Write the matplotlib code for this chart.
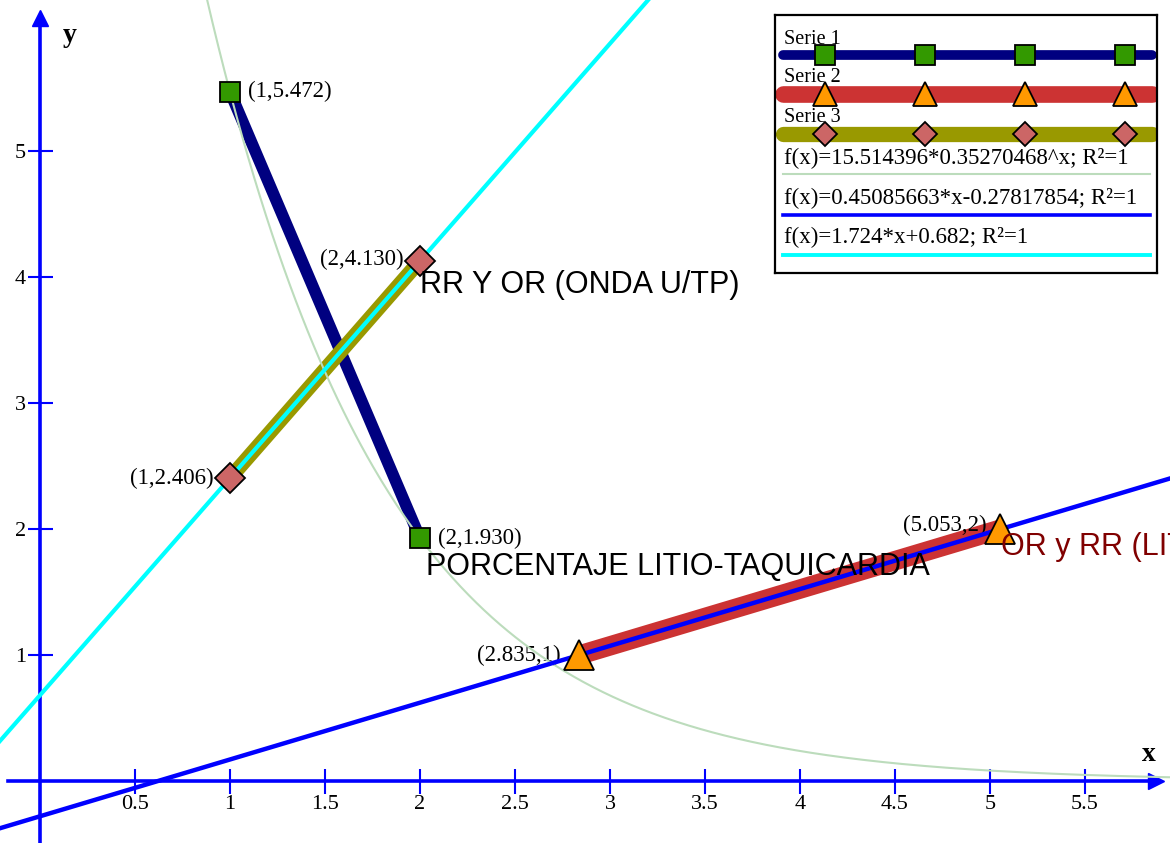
import numpy as np
import matplotlib
matplotlib.use('Agg')
import matplotlib.pyplot as plt

plt.rcParams['font.family'] = ['Liberation Serif', 'DejaVu Serif']

# ---- data ----
s1_x = [1, 2]
s1_y = [5.472, 1.930]
s2_x = [2.835, 5.053]
s2_y = [1, 2]
s3_x = [1, 2]
s3_y = [2.406, 4.130]

s1_lbl = ['(1,5.472)', '(2,1.930)']
s2_lbl = ['(2.835,1)', '(5.053,2)']
s3_lbl = ['(1,2.406)', '(2,4.130)']

# trend lines
exp_a, exp_b = 15.514396, 0.35270468
lin1_m, lin1_c = 0.45085663, -0.27817854
lin2_m, lin2_c = 1.724, 0.682

trend_txt = ['f(x)=15.514396*0.35270468^x; R²=1',
             'f(x)=0.45085663*x-0.27817854; R²=1',
             'f(x)=1.724*x+0.682; R²=1']
serie_names = ['Serie 1', 'Serie 2', 'Serie 3']

xticks = [0.5, 1, 1.5, 2, 2.5, 3, 3.5, 4, 4.5, 5, 5.5]
yticks = [1, 2, 3, 4, 5]

# colours
navy = '#000080'
red = '#cc3333'
olive = '#999900'
sq_fc = '#339900'
tri_fc = '#ff9900'
dia_fc = '#cc6666'
exp_col = '#bcdcbc'
blue = '#0000ff'
cyan = '#00ffff'

fig = plt.figure(figsize=(11.7, 8.43), dpi=100)
ax = fig.add_axes([0, 0, 1, 1])
ax.set_xlim(-0.21, 5.947)
ax.set_ylim(-0.49, 6.2)

# axes through origin
for s in ['top', 'right']:
    ax.spines[s].set_visible(False)
ax.spines['left'].set_position(('data', 0))
ax.spines['bottom'].set_position(('data', 0))
ax.spines['left'].set_color(blue)
ax.spines['bottom'].set_color(blue)
ax.spines['left'].set_linewidth(2.6)
ax.spines['bottom'].set_linewidth(2.6)
ax.spines['bottom'].set_bounds(-0.168, 5.86)
ax.spines['left'].set_bounds(-0.49, 6.02)
ax.plot(5.875, 0, '>', ms=11, color=blue, clip_on=False, zorder=3)
ax.plot(0, 6.06, '^', ms=11, color=blue, clip_on=False, zorder=3)

ax.set_xticks(xticks)
ax.set_xticklabels([('%g' % t) for t in xticks])
ax.set_yticks(yticks)
ax.set_yticklabels([('%g' % t) for t in yticks])
ax.tick_params(direction='inout', length=18, width=1.5, color=blue,
               labelcolor='black', labelsize=16, pad=1)

ax.text(5.8, 0.21, 'x', fontsize=20, fontweight='bold', ha='left', va='center')
ax.text(0.12, 5.92, 'y', fontsize=20, fontweight='bold', ha='left', va='center')

# trend curves
xx = np.linspace(-0.25, 6.0, 600)
ax.plot(xx, exp_a * exp_b ** xx, color=exp_col, lw=1.5, zorder=4)

# series lines
ax.plot(s1_x, s1_y, color=navy, lw=8.5, solid_capstyle='butt', zorder=2)
ax.plot(s2_x, s2_y, color=red, lw=14, solid_capstyle='butt', zorder=2)
ax.plot(s3_x, s3_y, color=olive, lw=10.5, solid_capstyle='butt', zorder=2)

ax.plot(xx, lin1_m * xx + lin1_c, color=blue, lw=3.2, zorder=5)
ax.plot(xx, lin2_m * xx + lin2_c, color=cyan, lw=3, zorder=5)

# markers
ax.plot(s1_x, s1_y, 's', ms=15, mfc=sq_fc, mec='black', mew=1.3, ls='none', zorder=6)
ax.plot(s2_x, s2_y, '^', ms=21, mfc=tri_fc, mec='black', mew=1.3, ls='none', zorder=6)
ax.plot(s3_x, s3_y, 'D', ms=15, mfc=dia_fc, mec='black', mew=1.3, ls='none', zorder=6)

# point labels
pt_fs = 16.5
ax.annotate(s1_lbl[0], (s1_x[0], s1_y[0]), xytext=(13, 0), textcoords='offset points',
            ha='left', va='center', fontsize=pt_fs)
ax.annotate(s1_lbl[1], (s1_x[1], s1_y[1]), xytext=(13, 0), textcoords='offset points',
            ha='left', va='center', fontsize=pt_fs)
ax.annotate(s3_lbl[0], (s3_x[0], s3_y[0]), xytext=(-12, 0), textcoords='offset points',
            ha='right', va='center', fontsize=pt_fs)
ax.annotate(s3_lbl[1], (s3_x[1], s3_y[1]), xytext=(-12, 1), textcoords='offset points',
            ha='right', va='center', fontsize=pt_fs)
ax.annotate(s2_lbl[0], (s2_x[0], s2_y[0]), xytext=(-13, 0), textcoords='offset points',
            ha='right', va='center', fontsize=pt_fs)
ax.annotate(s2_lbl[1], (s2_x[1], s2_y[1]), xytext=(-10, 3), textcoords='offset points',
            ha='right', va='center', fontsize=pt_fs)

# chart notes
ax.text(2.0, 3.94, 'RR Y OR (ONDA U/TP)', family='Liberation Sans', fontsize=22,
        ha='left', va='center', zorder=7)
ax.text(2.03, 1.70, 'PORCENTAJE LITIO-TAQUICARDIA', family='Liberation Sans', fontsize=22,
        ha='left', va='center', zorder=7)
ax.text(5.06, 1.86, 'OR y RR (LITIO)', family='Liberation Sans', fontsize=22,
        color='#800000', ha='left', va='center', zorder=7, clip_on=True)

# ---- legend box (pixel coordinates) ----
lax = fig.add_axes([775 / 1170, (843 - 273) / 843, (1157 - 775) / 1170, (273 - 15) / 843])
lax.set_xlim(775, 1157)
lax.set_ylim(273, 15)
lax.set_xticks([])
lax.set_yticks([])
for s in lax.spines.values():
    s.set_linewidth(1.6)
    s.set_color('black')

mk_x = [825, 925, 1025, 1125]
lax.text(784, 39, serie_names[0], fontsize=14.5, va='center', ha='left', zorder=1)
lax.plot([783, 1152], [55, 55], color=navy, lw=7, solid_capstyle='round', zorder=2)
lax.plot(mk_x, [55] * 4, 's', ms=14.5, mfc=sq_fc, mec='black', mew=1.3, ls='none', zorder=3)

lax.text(784, 78, serie_names[1], fontsize=14.5, va='center', ha='left', zorder=1)
lax.plot([783, 1152], [94, 94], color=red, lw=12, solid_capstyle='round', zorder=2)
lax.plot(mk_x, [94] * 4, '^', ms=17, mfc=tri_fc, mec='black', mew=1.3, ls='none', zorder=3)

lax.text(784, 118, serie_names[2], fontsize=14.5, va='center', ha='left', zorder=1)
lax.plot([783, 1152], [134, 134], color=olive, lw=11, solid_capstyle='round', zorder=2)
lax.plot(mk_x, [134] * 4, 'D', ms=12.5, mfc=dia_fc, mec='black', mew=1.3, ls='none', zorder=3)

lax.text(784, 158, trend_txt[0], fontsize=16.5, va='center', ha='left')
lax.plot([783, 1150], [174, 174], color=exp_col, lw=1.5)
lax.text(784, 198, trend_txt[1], fontsize=16.5, va='center', ha='left')
lax.plot([783, 1150], [215, 215], color=blue, lw=2.6)
lax.text(784, 237, trend_txt[2], fontsize=16.5, va='center', ha='left')
lax.plot([783, 1150], [255, 255], color=cyan, lw=2.8)

fig.savefig('out.png', dpi=100)
